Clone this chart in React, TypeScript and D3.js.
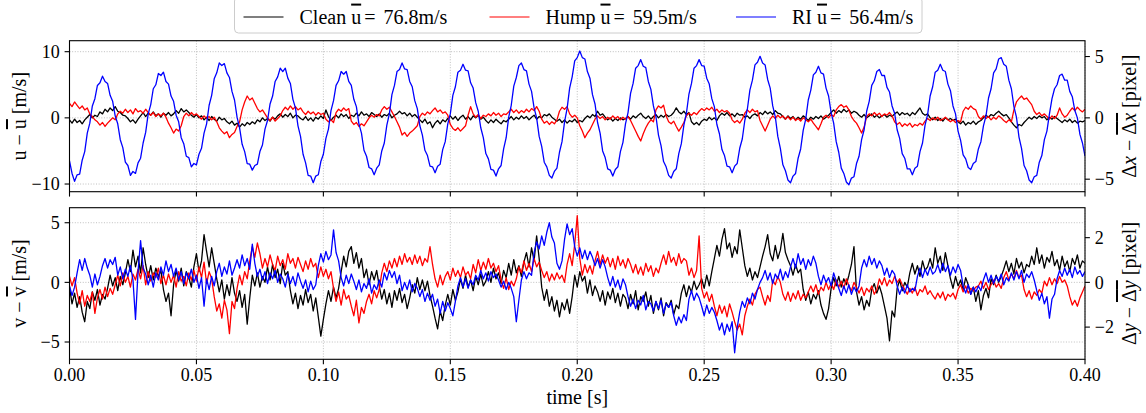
import React from 'react';
import * as d3 from 'd3';

const DT = 0.001;

const CLEAN_U = [
-0.3,-0.8,-0.2,-0.7,-0.4,-0.9,-0.3,0.1,0.5,0.0,
0.4,0.2,0.9,0.6,1.3,0.9,1.5,1.1,1.7,1.0,
0.8,0.4,0.3,-0.1,-0.6,-0.3,-0.8,-0.2,0.3,0.8,
0.2,0.7,0.4,0.9,0.3,0.6,0.1,0.7,0.4,0.8,
0.3,0.6,1.1,0.7,1.4,0.9,1.2,0.8,0.4,0.1,
0.5,0.0,0.3,-0.3,0.1,-0.4,0.2,-0.2,-0.5,0.1,
-0.3,-0.1,-0.6,-0.9,-0.5,-1.1,-0.8,-1.4,-0.9,-1.2,
-0.7,-1.0,-0.6,-0.9,-0.3,-0.6,0.0,-0.4,-0.1,-0.5,
0.1,-0.2,0.3,0.6,0.1,0.5,0.2,0.7,0.0,0.4,
0.3,-0.1,-0.3,0.2,-0.4,0.0,-0.5,0.1,-0.2,0.3,
-0.1,1.2,0.2,-0.4,0.1,0.4,0.0,0.6,0.2,0.5,
-0.1,0.4,0.2,0.7,0.3,0.9,0.4,0.6,0.2,0.8,
0.5,0.2,0.6,0.1,0.5,0.3,0.7,0.0,0.4,0.6,
1.0,0.6,0.8,0.3,0.7,0.2,0.5,0.1,-0.3,-0.7,
-0.2,-0.9,-0.6,-1.5,-0.8,-0.4,-0.9,-0.3,-0.6,-0.1,
0.3,-0.2,0.2,-0.4,0.1,0.4,-0.2,0.2,-0.3,0.3,
0.0,0.4,-0.2,0.1,-0.4,-0.8,-0.3,-0.7,-0.2,-0.6,
-0.9,-0.4,-0.6,-0.2,0.2,-0.3,0.1,-0.2,0.3,-0.1,
0.2,-0.3,0.1,0.4,-0.2,0.2,0.0,0.5,0.3,0.6,
0.1,-0.2,-0.5,-0.2,-0.7,-0.3,-0.8,-0.4,-0.6,-0.2,
-0.7,-0.4,-0.6,-0.1,0.3,0.0,0.5,0.2,1.0,0.4,
0.6,0.1,-0.3,0.0,-0.5,-0.1,-0.4,0.0,-0.3,-0.1,
0.2,-0.2,0.3,0.0,0.4,0.7,0.2,-0.1,0.3,-0.2,
0.2,0.5,0.0,0.4,0.1,0.5,0.2,0.4,0.8,1.5,
0.9,0.6,1.0,0.5,0.8,-0.6,-1.0,-0.7,-1.1,-0.5,
-0.2,-0.4,0.1,-0.3,0.0,-0.4,0.3,0.7,0.4,0.8,
0.3,0.6,0.2,0.7,0.4,0.5,0.1,0.3,-0.1,0.4,
0.6,0.3,0.8,0.5,1.0,0.6,0.9,0.5,1.1,0.7,
0.6,0.2,-0.2,0.3,-0.1,0.2,-0.3,0.1,-0.2,0.3,
0.0,-0.4,0.1,-0.2,0.2,-0.1,0.3,-0.2,0.1,0.4,
0.8,1.2,0.7,1.1,0.8,1.3,0.9,1.2,0.7,1.0,
0.8,0.4,0.1,0.5,0.0,0.3,0.6,0.1,0.4,0.0,
0.3,0.5,0.1,0.4,0.2,0.6,0.9,0.4,0.8,0.5,
0.7,0.3,0.8,0.5,1.0,1.5,0.7,0.4,0.6,0.0,
-0.3,0.1,-0.4,-0.1,-0.5,0.0,-0.3,-0.1,-0.4,-0.2,
-0.6,-0.9,-0.5,-1.1,-0.7,-0.9,-0.5,-1.0,-0.6,-0.4,
0.0,0.4,0.1,0.5,0.3,0.7,1.0,0.6,0.3,0.5,
0.0,-0.6,-1.1,-1.5,-1.0,-1.2,-0.7,-0.3,0.1,-0.2,
0.2,-0.1,0.3,0.0,0.2,-0.3,0.1,-0.2,0.2,-0.1,
-0.4,-0.7,-0.3,-0.6,-0.2,-0.7,-0.4,-0.8,-0.5,-0.6,
-0.4];

const HUMP_U = [
2.2,1.7,2.4,1.9,1.4,1.8,1.2,1.5,0.6,0.2,
-0.3,-0.6,-1.1,-0.7,-1.3,-0.8,-0.4,0.0,-0.3,0.6,
1.0,0.7,1.3,0.8,1.2,0.6,1.4,0.9,1.1,0.7,
1.3,0.8,0.4,0.8,0.2,0.6,0.3,0.7,0.1,-0.8,
-1.5,-2.3,-1.7,-2.0,-1.2,0.2,0.7,0.3,0.8,0.4,
0.6,0.2,-0.2,0.3,-0.1,0.2,-0.3,0.1,-0.6,-1.5,
-2.0,-2.4,-2.1,-3.0,-2.5,-2.2,-1.3,-0.6,1.2,2.4,
3.3,2.7,3.0,2.2,1.4,0.9,1.2,0.6,0.0,-0.4,
0.1,-0.5,-0.1,0.3,1.1,1.6,1.2,1.8,1.3,1.7,
1.2,1.5,0.9,0.5,1.0,0.6,0.9,0.4,0.8,0.5,
0.7,-0.2,-0.6,-0.3,-0.7,0.8,1.3,1.0,1.5,1.1,
1.4,-0.5,-1.0,-0.7,-1.3,-0.9,-1.2,-0.6,0.0,0.4,
0.1,0.5,0.3,1.2,1.7,1.3,1.6,0.9,0.2,-0.6,
-1.4,-2.6,-2.2,-2.8,-2.3,-2.0,-1.6,-1.2,0.2,0.7,
0.4,0.9,0.6,1.1,1.5,0.9,1.2,0.7,0.9,0.4,
-1.0,-1.6,-1.9,-1.5,-2.0,-1.6,-1.2,0.4,1.7,0.6,
0.1,0.5,-0.1,0.4,0.2,0.6,0.3,0.8,0.4,0.7,
0.2,0.6,0.5,0.9,1.3,0.8,1.2,0.7,1.1,0.8,
1.3,0.9,1.4,1.1,1.7,1.0,-0.2,-0.8,-0.5,-1.0,
-0.6,-0.9,-0.3,1.0,1.6,1.3,1.7,0.6,0.1,0.4,
0.0,-1.2,-2.0,-3.0,-2.3,-1.8,-1.0,-0.2,0.3,-0.1,
0.2,-0.3,0.1,-0.2,0.3,-0.1,0.2,-0.3,0.1,-0.2,
0.2,-0.4,-1.2,-2.0,-2.8,-3.5,-2.4,-1.5,-0.8,-0.3,
-0.6,1.2,1.8,1.5,1.9,0.3,-0.6,-0.9,-0.5,-1.3,
-2.0,-1.4,-0.7,0.3,0.7,0.4,0.8,0.5,1.0,1.4,
1.1,1.5,1.2,1.6,1.0,1.3,0.8,1.2,0.9,1.1,
0.7,-0.3,-0.7,-0.4,-0.8,-0.2,0.7,1.2,0.8,1.3,
0.9,1.1,-0.4,-1.2,-2.0,-1.1,-0.2,0.3,-0.1,0.4,
0.0,0.3,-0.2,0.2,-0.3,0.1,-0.4,-0.1,-0.5,0.0,
-0.3,-0.6,-0.2,-0.8,-1.3,-1.8,-0.9,0.1,0.4,0.0,
0.5,0.2,1.2,1.7,2.0,1.6,1.8,1.2,0.2,-0.4,
-0.8,-1.5,-2.3,-1.4,0.2,0.6,0.3,0.8,0.4,0.7,
0.2,0.6,0.4,0.8,0.3,-0.6,-1.0,-0.7,-1.3,-0.9,
-1.2,-0.8,-1.4,-1.0,-1.2,-0.8,-1.1,-0.5,-0.1,-0.4,
0.0,-0.3,0.1,-0.4,-0.2,0.1,-0.3,-0.6,-0.3,-0.7,
-0.4,-0.6,1.0,1.6,1.3,1.8,1.4,1.2,0.2,-0.2,
0.3,-0.1,0.2,-0.3,0.1,-0.2,0.3,0.0,-0.4,-0.7,
-0.3,-0.6,1.2,2.4,2.9,3.3,2.8,3.0,2.5,2.0,
1.0,0.5,0.8,0.3,0.6,0.2,-0.2,0.3,-0.1,0.4,
1.5,0.6,0.1,0.4,1.0,1.5,1.1,1.6,1.2,0.9,
1.3];

const RI_U = [
-6.5,-8.4,-9.6,-8.6,-8.5,-6.4,-5.1,-2.3,-0.8,1.8,
2.9,4.9,5.3,6.3,5.5,5.2,3.4,2.5,0.3,-0.9,
-3.3,-4.5,-6.7,-7.2,-8.7,-8.1,-8.4,-6.8,-6.1,-3.8,
-2.2,0.6,2.0,4.4,5.0,6.7,6.4,6.9,5.5,5.1,
3.3,2.5,0.4,-0.6,-3.0,-3.9,-5.8,-6.0,-7.4,-6.9,
-7.1,-5.5,-4.6,-2.3,-0.9,1.9,3.4,5.9,6.8,8.3,
7.9,8.2,6.8,6.1,4.0,2.7,0.1,-1.5,-4.0,-5.1,
-6.9,-7.0,-7.9,-7.2,-7.0,-5.1,-4.1,-1.7,-0.4,2.1,
3.3,5.5,6.2,7.5,7.0,7.5,6.0,5.2,2.8,1.5,
-1.2,-2.8,-5.5,-6.8,-8.7,-8.8,-9.8,-8.8,-8.6,-6.6,
-5.5,-3.1,-1.7,1.1,2.6,4.9,5.6,7.0,6.6,7.0,
5.5,4.9,2.8,1.7,-0.9,-2.3,-4.9,-5.8,-7.5,-7.7,
-8.6,-7.6,-7.1,-5.0,-3.8,-1.1,0.6,3.5,4.9,7.0,
7.3,8.3,7.4,7.3,5.5,4.7,2.6,1.4,-1.2,-2.6,
-4.9,-5.7,-7.3,-7.4,-8.3,-7.3,-7.0,-4.8,-3.6,-0.9,
0.6,3.4,4.7,6.9,7.2,8.1,7.2,7.1,5.3,4.5,
2.3,1.0,-1.5,-3.0,-5.4,-6.2,-7.8,-7.9,-8.8,-7.7,
-7.2,-4.7,-3.0,0.1,1.9,4.8,6.1,7.9,8.3,7.3,
7.1,5.1,4.0,1.5,0.0,-2.8,-4.3,-6.7,-7.4,-8.7,
-9.1,-8.1,-7.6,-5.2,-3.6,-0.6,1.4,4.5,6.2,8.6,
9.1,10.1,9.1,8.9,7.0,6.0,3.5,2.1,-0.7,-2.3,
-5.0,-6.0,-7.7,-7.9,-8.8,-7.8,-7.4,-5.1,-3.7,-0.9,
0.8,3.7,5.2,7.5,7.9,8.8,7.8,7.6,5.5,4.3,
1.8,0.2,-2.6,-4.2,-6.6,-7.4,-8.7,-9.1,-8.1,-7.7,
-5.4,-3.9,-1.1,0.7,3.6,5.2,7.5,7.9,8.8,7.9,
7.8,6.0,5.1,2.9,1.7,-1.0,-2.4,-4.8,-5.7,-7.3,
-7.4,-8.3,-7.3,-6.9,-4.6,-3.2,-0.4,1.3,4.2,5.7,
8.0,8.4,9.3,8.3,8.0,5.8,4.5,1.8,0.2,-2.8,
-4.6,-7.1,-8.0,-9.4,-9.8,-8.8,-8.4,-6.1,-4.7,-1.9,
-0.2,2.7,4.2,6.5,6.9,7.8,6.8,6.6,4.5,3.3,
0.8,-0.8,-3.6,-5.2,-7.6,-8.4,-9.7,-10.1,-9.1,-8.9,
-6.9,-5.8,-3.3,-1.8,1.0,2.5,4.9,5.6,7.0,7.3,
6.4,6.4,4.6,3.9,1.8,0.7,-1.8,-3.1,-5.4,-6.1,
-7.7,-7.7,-8.6,-7.6,-7.3,-5.1,-3.8,-1.1,0.5,3.3,
4.7,6.9,7.2,8.1,7.2,7.0,5.1,4.1,1.8,0.6,
-2.0,-3.4,-5.6,-6.2,-7.5,-7.8,-6.9,-6.6,-4.7,-3.6,
-1.2,0.3,3.0,4.4,6.8,7.4,8.9,9.1,8.1,7.8,
5.7,4.4,1.7,0.1,-2.9,-4.6,-7.2,-8.0,-9.4,-9.8,
-8.9,-8.7,-6.7,-5.7,-3.3,-2.0,0.6,2.9,4.4,5.0,
6.4,6.6,5.7,5.7,4.0,3.2,1.1,0.0,-2.5,-3.8,
-5.8];

const CLEAN_V = [
-0.4,-1.8,-0.9,-2.1,-1.2,-2.5,-3.3,-1.6,-2.2,-0.8,
-1.5,-0.6,-1.9,-1.0,-1.4,-0.5,0.6,-0.3,0.4,-0.7,
0.5,-0.2,0.8,1.9,0.9,2.7,1.3,2.2,0.8,2.9,
1.5,0.4,1.4,0.2,1.2,0.5,1.0,-0.6,-1.6,-0.9,
-2.8,-0.2,1.0,0.1,1.2,-0.3,0.9,0.4,-0.4,1.3,
2.4,0.9,1.8,4.0,2.6,1.3,2.9,1.6,0.3,-0.8,
0.2,-1.4,-0.2,-1.1,0.4,-0.9,-1.6,-0.7,-2.1,-1.0,
-3.5,-1.3,0.6,-0.3,0.8,-0.4,0.5,0.0,1.3,0.2,
1.5,0.4,1.1,-0.1,1.6,0.6,0.9,-0.7,-1.8,-0.9,
-2.2,-1.1,-1.9,-0.6,-1.7,-1.0,-2.4,-1.3,-2.9,-4.5,
-3.1,-1.8,-0.7,-1.6,-0.4,-1.3,-0.5,0.9,2.2,1.3,
2.6,3.0,1.6,2.5,1.2,2.0,0.4,1.1,-0.2,0.9,
0.2,1.0,-0.3,-1.4,-0.6,-1.8,-0.9,-2.1,-0.7,-1.5,
-0.5,-1.7,-1.0,-2.2,-1.3,-0.2,-0.9,0.4,-0.6,0.2,
-0.7,0.1,-1.1,-2.0,-3.0,-3.9,-2.4,-3.2,-1.9,-1.0,
-1.9,-0.6,-1.5,-0.8,0.3,-0.5,0.6,-0.4,0.2,-0.7,
0.5,-0.2,0.7,-0.3,0.1,0.9,0.0,1.2,0.3,0.8,
-0.1,1.0,0.4,1.6,0.6,1.9,0.8,1.4,0.5,1.7,
2.5,1.3,2.9,1.8,3.9,2.0,-0.4,-1.5,-0.6,-2.0,
-1.2,-2.4,-1.5,-2.9,-1.7,-2.3,-1.4,-2.6,-1.2,0.6,
-0.4,0.9,0.1,0.5,-0.9,0.2,-1.1,-0.3,-0.8,-1.6,
-0.7,-1.9,-0.8,-1.4,-0.5,-1.7,-0.9,-2.0,-1.0,-1.3,
-2.2,-1.0,-1.8,-0.7,-2.3,-1.2,-1.6,-0.8,-2.0,-1.1,
-2.6,-1.6,-2.3,-1.3,-2.8,-1.7,-2.1,-1.5,-2.7,-1.9,
-2.2,-0.9,-0.2,-1.2,-0.3,-0.8,0.1,-0.6,-0.2,0.3,
-0.5,0.6,-0.3,0.9,2.0,3.1,2.2,3.6,4.5,2.8,
3.3,2.1,3.0,2.4,4.4,2.9,1.4,0.5,1.2,0.2,
0.9,0.4,1.3,2.2,3.0,4.0,2.4,1.8,3.1,2.0,
2.7,4.1,2.5,1.9,1.4,0.6,1.5,0.8,1.1,-0.6,
-1.5,-0.8,-1.8,-1.0,-1.4,-0.7,-1.9,-2.6,-3.1,-2.2,
-0.5,0.4,-0.3,0.5,-0.4,0.3,-0.2,0.6,1.5,3.0,
-0.8,-1.9,-1.2,-2.3,-1.5,-2.0,-0.6,-0.1,-0.9,-0.3,
-1.0,-2.0,-3.0,-4.9,-2.4,-2.9,-0.5,0.2,-0.7,0.0,
-0.4,0.8,1.6,0.7,1.4,0.5,1.8,1.0,1.3,2.0,
1.2,2.9,1.6,2.2,1.0,2.5,1.4,0.3,-0.5,0.5,
-0.3,0.2,-0.6,0.4,-0.2,-1.0,-0.4,-1.6,-0.7,-2.3,
-1.1,-0.5,-1.3,0.3,-0.2,0.6,0.0,0.5,1.1,1.8,
0.9,1.6,0.7,2.0,1.2,1.7,0.8,1.5,1.3,2.2,
1.5,2.9,1.6,2.3,1.2,2.1,1.7,2.6,1.4,1.9,
1.0,2.2,1.3,1.8,0.9,2.0,1.5,2.3,1.2,1.8,
1.6];

const HUMP_V = [
0.5,-0.3,0.4,-0.9,-1.8,-0.7,-2.0,-1.1,-1.6,-0.8,
-2.6,-1.3,-0.6,-1.4,-0.4,-1.2,-0.5,-1.0,-0.2,0.6,
-0.3,0.8,0.0,0.5,-0.4,0.7,0.2,1.1,0.3,1.4,
-0.2,0.9,0.1,0.8,0.4,1.2,-0.1,0.6,-0.2,0.7,
0.0,0.6,-0.4,0.9,0.1,0.5,-0.3,0.8,0.2,1.0,
0.1,1.3,0.4,1.7,-0.1,0.9,0.3,-1.2,-2.4,-1.8,
-3.0,-1.5,-2.3,-4.3,-1.6,-2.2,-0.5,0.6,-0.2,0.9,
0.3,1.8,3.0,2.1,3.3,2.4,1.2,2.0,1.3,2.3,
1.5,1.0,2.2,1.4,1.9,1.1,2.4,1.6,2.0,1.2,
2.1,1.5,0.9,1.8,1.1,2.0,1.3,1.6,0.4,1.3,
0.5,1.1,0.3,0.9,-0.5,-1.6,-0.8,-1.9,-0.6,-1.4,
-1.1,-2.0,-2.8,-1.5,-3.4,-2.1,-2.6,-1.6,-1.0,-1.8,
-0.7,-1.3,-0.6,0.8,1.6,0.9,1.8,1.2,2.0,1.3,
2.2,1.5,2.4,1.7,2.1,1.5,2.3,1.6,2.2,1.4,
2.0,1.7,3.0,1.5,0.3,-0.4,0.6,-0.2,0.5,0.9,
0.2,1.2,0.5,1.0,0.4,1.3,0.6,0.9,0.3,1.5,
0.8,1.9,1.0,1.7,1.1,2.0,1.2,1.6,0.9,1.4,
0.2,-0.5,0.4,-0.6,0.1,-0.3,0.3,1.3,0.8,1.8,
1.0,1.6,0.9,2.0,1.3,1.7,1.0,0.4,0.9,0.1,
0.7,0.2,0.8,0.3,0.6,0.0,1.5,2.4,1.4,3.2,
5.6,2.0,0.6,1.5,0.8,1.4,0.7,1.8,2.6,1.5,
2.3,1.6,2.1,1.3,2.0,1.1,2.2,1.4,1.9,1.2,
2.0,1.5,0.8,1.5,0.7,1.3,0.6,1.6,0.9,1.4,
0.5,1.2,0.8,1.6,2.3,1.5,2.6,1.7,2.1,1.4,
2.4,1.6,2.0,1.8,0.6,1.2,0.4,1.0,3.9,-0.5,
-1.3,-0.8,-1.6,-1.0,-2.0,-2.8,-1.9,-2.6,-2.0,-2.9,
-1.8,-2.5,-3.3,-4.0,-3.5,-4.4,-2.8,-2.0,-1.4,-1.9,
-1.0,-0.6,-0.4,-1.2,-1.9,-1.1,-1.6,0.2,-0.2,0.5,
0.0,-1.0,-1.5,-0.8,-1.6,-0.9,-1.4,-0.7,-1.5,-1.0,
-1.3,-0.8,-0.3,-0.8,-0.2,-1.0,-0.4,-0.7,0.0,-0.6,
-0.1,-0.6,0.2,-0.4,0.1,-0.5,0.3,-0.3,-0.7,0.0,
-0.4,-0.9,-0.4,-1.1,-0.5,-0.8,-0.3,-1.0,-0.6,0.3,
-0.2,0.4,-0.3,0.2,-0.1,0.5,0.0,0.3,-0.2,-0.6,
-1.0,-0.5,-0.9,-0.4,-1.1,-0.6,-0.8,-0.3,-1.0,-0.7,
-1.1,-1.4,-0.9,-1.3,-0.8,-1.5,-1.0,-1.2,-0.9,-1.4,
-0.6,-0.2,-0.8,-0.3,-0.9,-0.5,-0.7,-0.4,-0.3,0.1,
-0.5,0.0,-0.6,-0.2,0.2,-0.4,-0.1,-0.5,0.4,0.9,
0.2,0.7,0.3,1.0,0.4,0.6,-0.6,-1.2,-0.7,-1.4,
-0.8,-1.1,-0.6,-0.9,0.1,-0.3,0.4,-0.2,0.3,-0.1,
0.5,0.0,0.2,-0.3,-1.2,-1.9,-1.5,-2.0,-1.3,-0.8,
-0.3];

const RI_V = [
-0.3,-1.1,-0.4,0.8,1.9,1.0,2.0,1.2,0.6,-0.4,
0.7,-0.2,0.5,1.4,2.0,1.2,1.9,1.5,2.1,0.6,
1.3,0.3,1.1,0.5,1.4,0.2,-3.1,0.9,3.5,1.2,
0.7,-0.2,0.6,-0.4,0.8,0.2,1.3,0.6,1.8,0.9,
1.5,0.5,1.2,0.2,0.9,-0.1,0.8,0.3,1.1,0.0,
0.6,-0.5,0.4,-2.0,0.3,-0.6,0.5,-0.3,0.9,1.6,
0.5,1.3,0.7,1.8,0.6,1.2,1.9,1.2,2.3,1.4,
2.0,1.1,3.2,1.6,0.5,1.1,0.2,0.9,-0.1,0.8,
0.3,1.0,0.0,0.7,0.3,-0.4,0.7,-0.1,0.5,-0.3,
0.8,0.1,-0.5,0.2,-0.8,0.1,-0.6,-0.2,1.4,2.4,
1.7,2.6,1.9,2.3,4.4,2.5,1.8,0.4,-0.3,0.6,
-0.1,0.7,0.1,-0.6,0.2,-0.8,-0.1,-0.5,0.3,-0.9,
-0.2,-0.6,0.2,-0.4,0.8,0.2,1.0,0.4,0.9,-0.1,
0.6,-0.7,0.0,-0.6,0.2,-0.8,-0.1,-0.5,-1.2,-0.6,
-1.6,-0.9,-1.5,-1.0,-2.0,-1.4,-2.6,-1.6,-2.4,-1.7,
-2.2,-2.8,-1.6,-0.3,0.4,-0.4,0.3,-0.5,0.2,-0.2,
0.6,0.2,1.0,0.3,0.8,0.1,0.9,0.4,0.7,0.2,
-0.4,0.1,-0.6,0.0,-0.5,-1.2,-3.3,-1.5,0.2,0.9,
0.3,0.8,0.6,2.5,3.4,2.8,3.9,3.1,4.2,5.0,
3.8,3.3,1.6,1.1,1.8,3.6,4.9,4.0,4.5,3.0,
2.2,2.9,2.0,2.7,1.9,2.6,2.1,1.4,2.0,1.2,
1.9,1.3,0.4,-0.3,0.5,-0.4,0.2,-0.6,0.3,-0.2,
-1.2,-2.0,-1.4,-2.2,-1.5,-1.9,-1.1,-2.3,-1.6,-1.8,
-2.4,-1.6,-2.2,-1.5,-2.6,-1.8,-2.1,-1.7,-2.8,-3.6,
-2.9,-3.4,-2.7,-3.2,-1.4,-0.7,-1.5,-0.9,-1.3,-2.0,
-2.8,-1.9,-2.6,-2.1,-2.5,-3.2,-4.0,-3.4,-4.4,-3.5,
-4.1,-3.3,-5.9,-3.8,-2.5,-1.6,-2.1,-1.3,-1.8,-0.9,
-1.4,-0.6,0.0,0.4,1.0,0.2,0.8,-0.1,0.7,0.3,
1.1,0.2,0.9,0.4,1.3,2.0,1.2,2.4,1.5,2.0,
1.1,1.9,1.4,2.2,1.6,0.5,-0.2,0.6,0.0,0.4,
-0.3,0.8,0.1,-0.5,-1.1,-0.3,-0.9,-0.2,-1.0,-0.4,
-0.8,-0.3,1.2,1.9,1.3,2.2,1.5,2.0,1.2,1.8,
1.4,0.6,1.2,0.4,1.0,0.7,-0.3,-1.0,-0.4,-0.9,
-0.2,-0.8,-0.5,-0.7,0.5,1.2,0.4,1.1,0.6,1.3,
0.7,0.9,1.5,0.8,1.6,0.9,1.4,0.6,1.3,0.8,
1.5,1.0,-0.3,-0.9,-0.2,-1.0,-0.4,-0.8,-0.3,-0.7,
0.2,0.8,0.0,0.6,-0.1,0.5,0.1,0.7,-0.2,0.4,
0.1,0.8,0.2,0.9,0.3,1.0,0.0,0.7,0.4,0.9,
0.2,-0.7,-1.5,-0.9,-1.8,-1.2,-3.0,-1.4,-1.0,0.3,
1.0,0.5,1.2,0.6,1.1,0.4,1.3,0.7,1.0,0.5,
0.9];

const X_TICKS = [0, 0.05, 0.1, 0.15, 0.2, 0.25, 0.3, 0.35, 0.4];
const TOP_LEFT_TICKS = [-10, 0, 10];
const TOP_RIGHT_TICKS = [-5, 0, 5];
const BOT_LEFT_TICKS = [-5, 0, 5];
const BOT_RIGHT_TICKS = [-2, 0, 2];

const SERIES_NAMES = ['Clean', 'Hump', 'RI'];
const SERIES_MEANS = ['76.8', '59.5', '56.4'];
const SERIES_COLORS = ['#000000', '#ff0000', '#0000ff'];

const FONT = '"Liberation Serif", "Times New Roman", Times, serif';
const W = 1146;
const H = 413;
const X0 = 69.5;
const X1 = 1085;
const TICK = 4.9;
const PAD = 4.9;

const fmtX = d3.format('.2f');
const fmtY = d3.format('d');

function Panel(props: any) {
  const { id, top, bottom, yL, yR, lTicks, rTicks, data, showX, leftLabel, rightLabel } = props;
  const x = d3.scaleLinear().domain([0, 0.4]).range([X0, X1]);
  const makeLine = (arr: number[]) =>
    d3.line<number>().x((_, i) => x(i * DT)).y((d) => yL(d))(arr) || '';
  const midY = (top + bottom) / 2;
  return (
    <g>
      <defs>
        <clipPath id={id}>
          <rect x={X0} y={top} width={X1 - X0} height={bottom - top} />
        </clipPath>
      </defs>
      {X_TICKS.map((t) => (
        <line key={'gx' + t} x1={x(t)} x2={x(t)} y1={top} y2={bottom}
          stroke="#b0b0b0" strokeWidth={0.8} strokeDasharray="1,1.65" />
      ))}
      {lTicks.map((v: number) => (
        <line key={'gy' + v} x1={X0} x2={X1} y1={yL(v)} y2={yL(v)}
          stroke="#b0b0b0" strokeWidth={0.8} strokeDasharray="1,1.65" />
      ))}
      <g clipPath={`url(#${id})`}>
        {data.map((arr: number[], k: number) => (
          <path key={k} d={makeLine(arr)} fill="none" stroke={SERIES_COLORS[k]}
            strokeWidth={1.3} strokeLinejoin="round" />
        ))}
      </g>
      <rect x={X0} y={top} width={X1 - X0} height={bottom - top} fill="none"
        stroke="#000" strokeWidth={1.1} />
      {X_TICKS.map((t) => (
        <g key={'tx' + t}>
          <line x1={x(t)} x2={x(t)} y1={bottom} y2={bottom + TICK} stroke="#000" strokeWidth={1.1} />
          {showX && (
            <text x={x(t)} y={bottom + 22} textAnchor="middle" fontSize={18} fontFamily={FONT}>
              {fmtX(t)}
            </text>
          )}
        </g>
      ))}
      {lTicks.map((v: number) => (
        <g key={'tl' + v}>
          <line x1={X0 - TICK} x2={X0} y1={yL(v)} y2={yL(v)} stroke="#000" strokeWidth={1.1} />
          <text x={X0 - TICK - PAD} y={yL(v)} dy="0.35em" textAnchor="end" fontSize={18} fontFamily={FONT}>
            {fmtY(v)}
          </text>
        </g>
      ))}
      {rTicks.map((v: number) => (
        <g key={'tr' + v}>
          <line x1={X1} x2={X1 + TICK} y1={yR(v)} y2={yR(v)} stroke="#000" strokeWidth={1.1} />
          <text x={X1 + TICK + PAD} y={yR(v)} dy="0.35em" textAnchor="start" fontSize={18} fontFamily={FONT}>
            {fmtY(v)}
          </text>
        </g>
      ))}
      <text transform={`translate(19,${midY}) rotate(-90)`} textAnchor="middle" dominantBaseline="central"
        fontSize={20} fontFamily={FONT}>
        {leftLabel} − <tspan style={{ textDecoration: 'overline' }}>{leftLabel}</tspan> [m/s]
      </text>
      <text transform={`translate(1129,${midY}) rotate(-90)`} textAnchor="middle" dominantBaseline="central"
        fontSize={20} fontFamily={FONT}>
        Δ<tspan fontStyle="italic">{rightLabel}</tspan> − <tspan style={{ textDecoration: 'overline' }}>Δ<tspan fontStyle="italic">{rightLabel}</tspan></tspan> [pixel]
      </text>
    </g>
  );
}

export default function App() {
  const yTop = d3.scaleLinear().domain([-11.16, 11.66]).range([191.7, 40.7]);
  const yTopR = d3.scaleLinear().domain([-6.02, 6.29]).range([191.7, 40.7]);
  const yBot = d3.scaleLinear().domain([-6.45, 6.26]).range([359.3, 207.7]);
  const yBotR = d3.scaleLinear().domain([-3.44, 3.34]).range([359.3, 207.7]);

  const legendLineX = [243.5, 489.5, 736];
  const legendY = 17;

  return (
    <svg width={W} height={H} viewBox={`0 0 ${W} ${H}`}
      style={{ position: 'absolute', left: 0, top: 0, background: '#fff' }}>
      <rect x={0} y={0} width={W} height={H} fill="#fff" />
      <Panel id="clipTop" top={40.7} bottom={191.7} yL={yTop} yR={yTopR}
        lTicks={TOP_LEFT_TICKS} rTicks={TOP_RIGHT_TICKS}
        data={[CLEAN_U, HUMP_U, RI_U]} showX={false} leftLabel="u" rightLabel="x" />
      <Panel id="clipBot" top={207.7} bottom={359.3} yL={yBot} yR={yBotR}
        lTicks={BOT_LEFT_TICKS} rTicks={BOT_RIGHT_TICKS}
        data={[CLEAN_V, HUMP_V, RI_V]} showX={true} leftLabel="v" rightLabel="y" />
      <text x={(X0 + X1) / 2} y={404} textAnchor="middle" fontSize={20} fontFamily={FONT}>time [s]</text>
      <rect x={234.5} y={-3} width={687.5} height={36} rx={4} ry={4} fill="#fff" fillOpacity={0.8}
        stroke="#cccccc" strokeWidth={1} />
      {SERIES_NAMES.map((name, k) => (
        <g key={name}>
          <line x1={legendLineX[k]} x2={legendLineX[k] + 40} y1={legendY} y2={legendY}
            stroke={SERIES_COLORS[k]} strokeWidth={1.1} />
          <text x={legendLineX[k] + 56} y={legendY} dy="0.33em" fontSize={20} fontFamily={FONT}>
            {name} <tspan style={{ textDecoration: 'overline' }}>u</tspan>
            <tspan dx={3}>=</tspan>
            <tspan dx={8}>{SERIES_MEANS[k]}m/s</tspan>
          </text>
        </g>
      ))}
    </svg>
  );
}
